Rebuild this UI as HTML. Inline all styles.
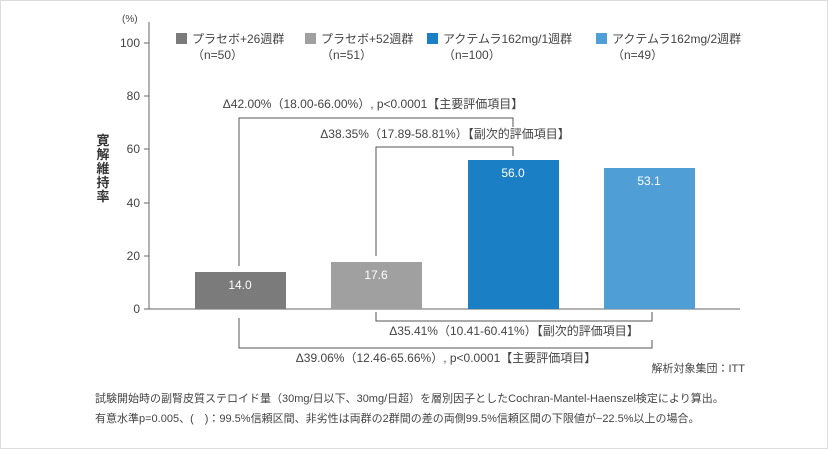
<!DOCTYPE html>
<html><head><meta charset="utf-8"><style>
html,body{margin:0;padding:0;background:#fff;}
svg{display:block;font-family:"Liberation Sans","Noto Sans CJK JP",sans-serif;}
</style></head><body>
<svg width="828" height="449" viewBox="0 0 828 449">
<rect x="0.5" y="0.5" width="827" height="448" fill="#fff" stroke="#ddd"/>
<g font-size="12" fill="#444">
<text x="122" y="22" font-size="10">(%)</text>
<line x1="149" y1="22" x2="149" y2="309" stroke="#666"/>
<line x1="149" y1="309" x2="740" y2="309" stroke="#666"/>
<g text-anchor="end">
<text x="140" y="47">100</text><line x1="144" y1="43" x2="149" y2="43" stroke="#666"/>
<text x="140" y="100">80</text><line x1="144" y1="96" x2="149" y2="96" stroke="#666"/>
<text x="140" y="153">60</text><line x1="144" y1="149" x2="149" y2="149" stroke="#666"/>
<text x="140" y="207">40</text><line x1="144" y1="203" x2="149" y2="203" stroke="#666"/>
<text x="140" y="260">20</text><line x1="144" y1="256" x2="149" y2="256" stroke="#666"/>
<text x="140" y="313">0</text><line x1="144" y1="309" x2="149" y2="309" stroke="#666"/>
</g>
<g font-size="13" font-weight="bold" fill="#333" text-anchor="middle">
<text x="103" y="145">寛</text><text x="103" y="159">解</text><text x="103" y="173">維</text><text x="103" y="187">持</text><text x="103" y="201">率</text>
</g>
<!-- legend -->
<rect x="176" y="33" width="11" height="11" fill="#7b7b7b"/>
<text x="192" y="43">プラセボ+26週群</text><text x="192" y="59">（n=50）</text>
<rect x="305" y="33" width="11" height="11" fill="#a0a0a0"/>
<text x="321" y="43">プラセボ+52週群</text><text x="321" y="59">（n=51）</text>
<rect x="427" y="33" width="11" height="11" fill="#1a7fc4"/>
<text x="443" y="43">アクテムラ162mg/1週群</text><text x="443" y="59">（n=100）</text>
<rect x="596" y="33" width="11" height="11" fill="#4f9fd6"/>
<text x="612" y="43">アクテムラ162mg/2週群</text><text x="612" y="59">（n=49）</text>
<!-- bars -->
<rect x="195" y="272" width="91" height="37" fill="#7b7b7b"/>
<rect x="331" y="262" width="91" height="47" fill="#a0a0a0"/>
<rect x="468" y="160" width="91" height="149" fill="#1a7fc4"/>
<rect x="604" y="168" width="91" height="141" fill="#4f9fd6"/>
<g fill="#fff" text-anchor="middle">
<text x="240" y="289">14.0</text><text x="376" y="279">17.6</text>
<text x="513" y="177">56.0</text><text x="649" y="185">53.1</text>
</g>
<!-- brackets -->
<g fill="none" stroke="#555">
<polyline points="239,266 239,118 513,118 513,127"/>
<polyline points="376,256 376,147 513,147 513,156"/>
<polyline points="376,312 376,321 652,321 652,312"/>
<polyline points="239,318 239,348 652,348 652,340"/>
</g>
<g text-anchor="middle">
<text x="373" y="108">Δ42.00%（18.00-66.00%）, p&lt;0.0001【主要評価項目】</text>
<text x="445" y="138">Δ38.35%（17.89-58.81%）【副次的評価項目】</text>
<text x="514" y="335">Δ35.41%（10.41-60.41%）【副次的評価項目】</text>
<text x="446" y="362">Δ39.06%（12.46-65.66%）, p&lt;0.0001【主要評価項目】</text>
</g>
<text x="745" y="372" text-anchor="end" font-size="11">解析対象集団：ITT</text>
<text x="95" y="402" font-size="11">試験開始時の副腎皮質ステロイド量（30mg/日以下、30mg/日超）を層別因子としたCochran-Mantel-Haenszel検定により算出。</text>
<text x="95" y="422" font-size="11">有意水準p=0.005、(　)：99.5%信頼区間、非劣性は両群の2群間の差の両側99.5%信頼区間の下限値が−22.5%以上の場合。</text>
</g>
</svg>
</body></html>
